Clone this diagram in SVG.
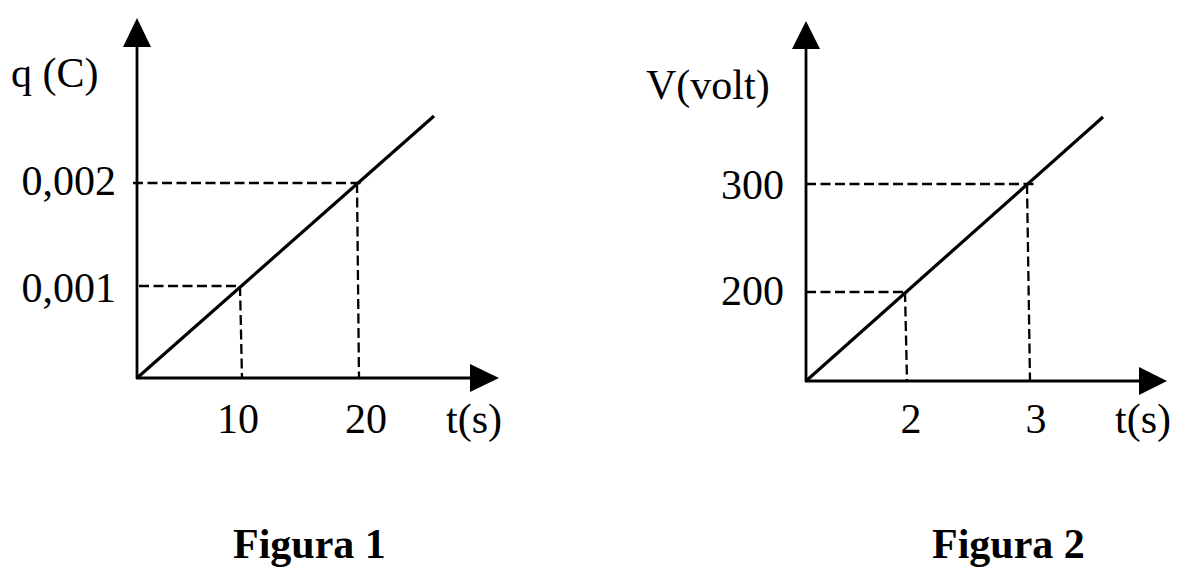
<svg xmlns="http://www.w3.org/2000/svg" width="1186" height="581" viewBox="0 0 1186 581">
<style>
.ax{stroke:#000;stroke-width:2.8;fill:none}
.ln{stroke:#000;stroke-width:3.2;fill:none}
.ds{stroke:#000;stroke-width:2.3;fill:none;stroke-dasharray:10 4.5}
.ah{fill:#000;stroke:none}
text{font-family:"Liberation Serif","Times New Roman",serif;font-size:42px;fill:#000}
.b{font-weight:bold}
</style>
<rect width="1186" height="581" fill="#fff"/>
<g id="figura1">
  <g id="fig1-axes">
    <line class="ax" x1="137" y1="379" x2="137" y2="44"/>
    <polygon class="ah" points="137,18 123,47 151,47"/>
    <line class="ax" x1="136" y1="378" x2="474" y2="378"/>
    <polygon class="ah" points="499,378 470,364 470,392"/>
  </g>
  <g id="fig1-lines">
    <line class="ln" x1="137" y1="378" x2="434" y2="116"/>
    <line class="ds" x1="133" y1="183" x2="364" y2="183"/>
    <line class="ds" x1="357" y1="183" x2="359" y2="378"/>
    <line class="ds" x1="139" y1="286" x2="240" y2="286"/>
    <line class="ds" x1="240" y1="286" x2="242" y2="378"/>
  </g>
  <g id="fig1-labels">
    <text x="11" y="87">q (C)</text>
    <text x="116" y="195" text-anchor="end">0,002</text>
    <text x="116" y="302" text-anchor="end">0,001</text>
    <text x="238" y="433" text-anchor="middle">10</text>
    <text x="366" y="433" text-anchor="middle">20</text>
    <text x="446" y="433">t(s)</text>
    <text class="b" x="233" y="558">Figura 1</text>
  </g>
</g>
<g id="figura2">
  <g id="fig2-axes">
    <line class="ax" x1="806" y1="382" x2="806" y2="46"/>
    <polygon class="ah" points="806,21 792,49 820,49"/>
    <line class="ax" x1="805" y1="381" x2="1143" y2="381"/>
    <polygon class="ah" points="1167,381 1139,367 1139,395"/>
  </g>
  <g id="fig2-lines">
    <line class="ln" x1="806" y1="381" x2="1103" y2="117"/>
    <line class="ds" x1="806" y1="184" x2="1036" y2="184"/>
    <line class="ds" x1="1027" y1="184" x2="1030" y2="381"/>
    <line class="ds" x1="806" y1="292" x2="908" y2="292"/>
    <line class="ds" x1="905" y1="292" x2="907" y2="381"/>
  </g>
  <g id="fig2-labels">
    <text x="646" y="99">V(volt)</text>
    <text x="784" y="199" text-anchor="end">300</text>
    <text x="784" y="305" text-anchor="end">200</text>
    <text x="911" y="433" text-anchor="middle">2</text>
    <text x="1036" y="433" text-anchor="middle">3</text>
    <text x="1115" y="433">t(s)</text>
    <text class="b" x="932" y="558">Figura 2</text>
  </g>
</g>
</svg>
